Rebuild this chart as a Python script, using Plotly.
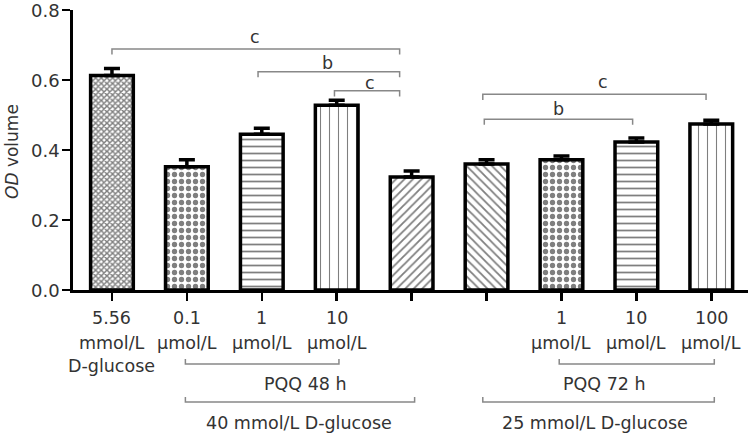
import plotly.graph_objects as go

categories = ["c1", "c2", "c3", "c4", "c5", "c6", "c7", "c8", "c9"]
# tick label lines (row 1, row 2, row 3)
label_row1 = ["5.56", "0.1", "1", "10", "", "", "1", "10", "100"]
label_row2 = ["mmol/L", "µmol/L", "µmol/L", "µmol/L", "", "", "µmol/L", "µmol/L", "µmol/L"]
label_row3 = ["D-glucose", "", "", "", "", "", "", "", ""]
values = [0.613, 0.352, 0.445, 0.528, 0.323, 0.360, 0.372, 0.423, 0.474]
errors = [0.020, 0.020, 0.017, 0.014, 0.017, 0.012, 0.011, 0.011, 0.011]
patterns = ["x", ".", "-", "|", "/", "\\", ".", "-", "|"]
pattern_sizes = [4, 7, 7, 9, 6, 6, 7, 7, 9]
pattern_solidity = [0.6, 0.45, 0.25, 0.12, 0.3, 0.3, 0.45, 0.25, 0.12]
y_ticks = [0.0, 0.2, 0.4, 0.6, 0.8]
y_ticktext = ["0.0", "0.2", "0.4", "0.6", "0.8"]

# significance brackets: (start index, end index, y, label, label x, label y)
sig_brackets = [
    (0, 3.84, 0.689, "c", 1.91, 0.722),
    (1.95, 3.84, 0.624, "b", 2.88, 0.648),
    (2.97, 3.84, 0.569, "c", 3.44, 0.591),
    (4.95, 7.93, 0.559, "c", 6.55, 0.594),
    (4.97, 6.95, 0.488, "b", 5.96, 0.518),
]
# group brackets below the axis: (start, end, pixel y, label, label x, label pixel y)
group_brackets = [
    (0.98, 3.03, 364, "PQQ 48 h", 2.58, 384),
    (0.98, 4.04, 402, "40 mmol/L D-glucose", 2.5, 423),
    (5.97, 8.04, 364, "PQQ 72 h", 6.58, 384),
    (4.95, 8.04, 402, "25 mmol/L D-glucose", 6.45, 423),
]
row_px = [318, 343, 366]

W, H = 750, 433
M_L, M_R, M_T, M_B = 73, 2, 10, 143
PLOT_W = W - M_L - M_R
PLOT_H = H - M_T - M_B
AXIS_Y = H - M_B


def py(px):
    """pixel row -> paper y"""
    return (AXIS_Y - px) / PLOT_H


def px_x(px):
    """pixel column -> paper x"""
    return (px - M_L) / PLOT_W


x_idx = list(range(len(categories)))
FONT = "DejaVu Sans"
TXT = "#333333"
LABEL_SIZE = 17.5

fig = go.Figure()
fig.add_trace(go.Bar(
    x=x_idx,
    y=values,
    width=0.57,
    marker=dict(
        color="white",
        line=dict(color="black", width=3.5),
        pattern=dict(shape=patterns, size=pattern_sizes, solidity=pattern_solidity,
                     fgcolor="black", bgcolor="white", fillmode="overlay"),
    ),
    error_y=dict(type="data", array=errors, arrayminus=[0] * len(errors), symmetric=False,
                 color="black", thickness=3.5, width=8),
    hoverinfo="skip",
))

shapes = []
annotations = []
for (a, b, y, lab, lx, ly) in sig_brackets:
    shapes.append(dict(type="path", xref="x", yref="y",
                       path=f"M {a},{y-0.016} L {a},{y} L {b},{y} L {b},{y-0.016}",
                       line=dict(color="#888888", width=1.5)))
    annotations.append(dict(x=lx, y=ly, xref="x", yref="y", text=lab, showarrow=False,
                            xanchor="center", yanchor="middle",
                            font=dict(family=FONT, size=LABEL_SIZE, color=TXT)))
for (a, b, ypx, lab, lx, lypx) in group_brackets:
    y = py(ypx)
    up = 5 / PLOT_H
    shapes.append(dict(type="path", xref="x", yref="paper",
                       path=f"M {a},{y+up} L {a},{y} L {b},{y} L {b},{y+up}",
                       line=dict(color="#888888", width=1.5)))
    annotations.append(dict(x=lx, y=py(lypx), xref="x", yref="paper", text=lab,
                            showarrow=False, xanchor="center", yanchor="middle",
                            font=dict(family=FONT, size=LABEL_SIZE, color=TXT)))

for rows, rpx in zip([label_row1, label_row2, label_row3], row_px):
    for xi, t in zip(x_idx, rows):
        if t:
            annotations.append(dict(x=xi, y=py(rpx), xref="x", yref="paper", text=t,
                                    showarrow=False, xanchor="center", yanchor="middle",
                                    font=dict(family=FONT, size=LABEL_SIZE, color=TXT)))

# y tick labels
for v, t in zip(y_ticks, y_ticktext):
    annotations.append(dict(x=px_x(62), y=v, xref="paper", yref="y", text=t,
                            showarrow=False, xanchor="right", yanchor="middle",
                            font=dict(family=FONT, size=18, color=TXT)))

annotations.append(dict(x=px_x(12), y=py(152), xref="paper", yref="paper",
                        xanchor="center", yanchor="middle", text="<i>OD</i> volume",
                        textangle=-90, showarrow=False,
                        font=dict(family=FONT, size=17, color=TXT)))

fig.update_layout(
    width=W, height=H,
    margin=dict(l=M_L, r=M_R, t=M_T, b=M_B),
    plot_bgcolor="white", paper_bgcolor="white",
    showlegend=False,
    shapes=shapes, annotations=annotations,
    font=dict(family=FONT, color=TXT),
    xaxis=dict(
        range=[-0.52, 8.49], tickmode="array", tickvals=x_idx, ticktext=[""] * len(x_idx),
        showline=True, linecolor="black", linewidth=3, ticks="outside", ticklen=8,
        tickwidth=2.5, tickcolor="black", showgrid=False, zeroline=False, automargin=False,
    ),
    yaxis=dict(
        range=[0, 0.8001], tickmode="array", tickvals=y_ticks, ticktext=[""] * len(y_ticks),
        showline=True, linecolor="black", linewidth=3, ticks="outside", ticklen=8,
        tickwidth=2.5, tickcolor="black", showgrid=False, zeroline=False, automargin=False,
    ),
)

fig.write_html(
    "out.html",
    config={"displayModeBar": False, "staticPlot": True},
    post_script="document.body.style.margin='0';document.body.style.overflow='hidden';",
)
